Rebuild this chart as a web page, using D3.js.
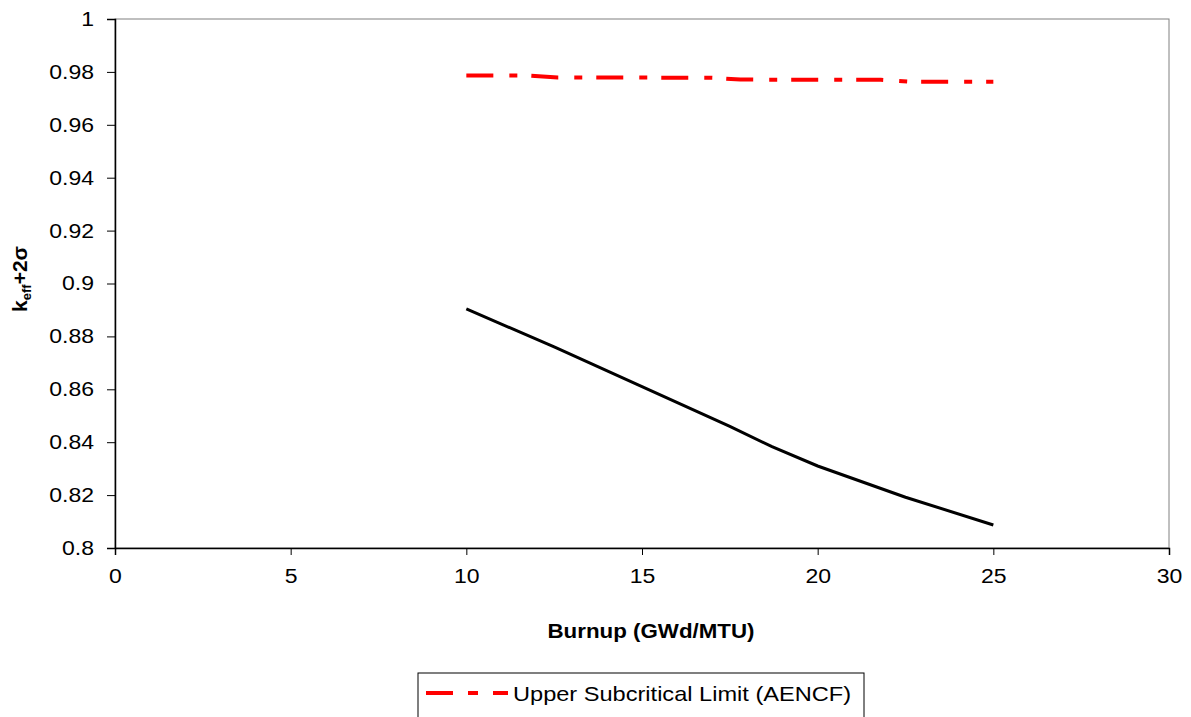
<!DOCTYPE html>
<html>
<head>
<meta charset="utf-8">
<script src="https://cdn.jsdelivr.net/npm/d3@7"></script>
<style>
  body { margin: 0; background: #fff; }
  text { font-family: "Liberation Sans", Arial, sans-serif; fill: #000; }
</style>
</head>
<body>
<svg id="chart" width="1191" height="717"></svg>
<script>
// ---- data ----
const burnupCalc = [10, 12.5, 15, 17.5, 18.7, 20, 22.5, 25];
const keffCalc   = [0.8904, 0.8760, 0.8610, 0.8460, 0.8383, 0.8310, 0.8192, 0.8087];

const burnupUSL = [10, 11.8, 12.6, 17.0, 17.8, 21.8, 22.6, 25];
const keffUSL   = [0.9786, 0.9786, 0.9779, 0.9778, 0.9771, 0.9770, 0.9763, 0.9763];

const xTicks = [0, 5, 10, 15, 20, 25, 30];
const yTicks = [0.8, 0.82, 0.84, 0.86, 0.88, 0.9, 0.92, 0.94, 0.96, 0.98, 1];
const legendLabel = "Upper Subcritical Limit (AENCF)";
const xTitle = "Burnup (GWd/MTU)";

// ---- layout ----
const svg = d3.select("#chart");
const L = 115, R = 1169, T = 19, B = 548;
const STRETCH = 1.15;

const x = d3.scaleLinear().domain([0, 30]).range([L, R]);
const y = d3.scaleLinear().domain([0.8, 1]).range([B, T]);

function stretch(sel, k) {
  sel.each(function () {
    const w = this.getComputedTextLength();
    d3.select(this).attr("textLength", w * k).attr("lengthAdjust", "spacingAndGlyphs");
  });
}

// plot border (gray top/right)
svg.append("rect").attr("x", L).attr("y", T).attr("width", R - L).attr("height", B - T)
  .attr("fill", "none").attr("stroke", "#808080").attr("stroke-width", 1);

// y axis
const yAxis = svg.append("g").attr("transform", `translate(${L},0)`)
  .call(d3.axisLeft(y).tickValues(yTicks).tickSize(8).tickPadding(13)
    .tickFormat(d => d3.format("~g")(d)));
yAxis.select(".domain").attr("stroke", "#000").attr("stroke-width", 1.5);
yAxis.selectAll(".tick line").attr("stroke", "#000");
yAxis.selectAll("text").style("font-size", "20px").attr("font-family", "Liberation Sans, Arial, sans-serif")
  .call(stretch, STRETCH);

// x axis
const xAxis = svg.append("g").attr("transform", `translate(0,${B})`)
  .call(d3.axisBottom(x).tickValues(xTicks).tickSize(7).tickPadding(14).tickFormat(d3.format("d")));
xAxis.select(".domain").attr("stroke", "#000").attr("stroke-width", 1.5);
xAxis.selectAll(".tick line").attr("stroke", "#000");
xAxis.selectAll("text").style("font-size", "20px").attr("font-family", "Liberation Sans, Arial, sans-serif")
  .call(stretch, STRETCH);

// lines
const line = d3.line().x(d => x(d[0])).y(d => y(d[1]));

svg.append("path")
  .datum(burnupCalc.map((b, i) => [b, keffCalc[i]]))
  .attr("d", line).attr("fill", "none").attr("stroke", "#000").attr("stroke-width", 3);

svg.append("path")
  .datum(burnupUSL.map((b, i) => [b, keffUSL[i]]))
  .attr("d", line).attr("fill", "none").attr("stroke", "#ff0000").attr("stroke-width", 4)
  .attr("stroke-dasharray", "27,16,8,14");

// axis titles
svg.append("text").attr("x", 651).attr("y", 638).attr("text-anchor", "middle")
  .style("font-size", "21px").style("font-weight", "bold").text(xTitle)
  .attr("textLength", 207).attr("lengthAdjust", "spacingAndGlyphs");

const yt = svg.append("text").attr("transform", "translate(27,279) rotate(-90)")
  .attr("text-anchor", "middle").style("font-size", "21px").style("font-weight", "bold");
yt.append("tspan").text("k");
yt.append("tspan").attr("dy", 4).style("font-size", "13px").text("eff");
yt.append("tspan").attr("dy", -4).text("+2σ");

// legend
svg.append("rect").attr("x", 418).attr("y", 673).attr("width", 446).attr("height", 60)
  .attr("fill", "#fff").attr("stroke", "#000").attr("stroke-width", 1);
svg.append("line").attr("x1", 426).attr("x2", 508).attr("y1", 693).attr("y2", 693)
  .attr("stroke", "#ff0000").attr("stroke-width", 4).attr("stroke-dasharray", "27,15,10,15");
svg.append("text").attr("x", 513).attr("y", 701).style("font-size", "21px").text(legendLabel)
  .attr("textLength", 338).attr("lengthAdjust", "spacingAndGlyphs");
</script>
</body>
</html>
